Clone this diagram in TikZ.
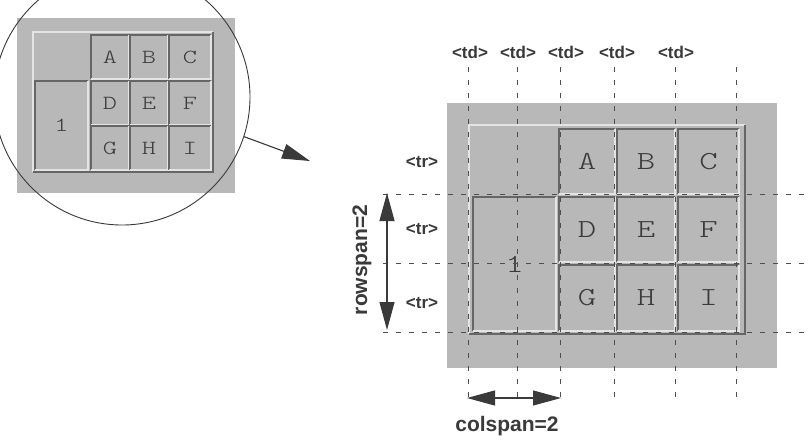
\documentclass[tikz,border=0pt]{standalone}
\usepackage{fontspec}
\setmainfont{Liberation Sans}
\newfontfamily\cellf{lmmonolt10-regular.otf}[FakeStretch=1.35]
\usetikzlibrary{arrows.meta}
\definecolor{bg}{HTML}{B8B8B8}
\definecolor{lite}{HTML}{E4E4E4}
\definecolor{dark}{HTML}{666666}
\definecolor{ink}{HTML}{3A3A3A}
\definecolor{gridc}{HTML}{4E4E4E}
\begin{document}
\begin{tikzpicture}[x=1pt,y=-1pt,
  panel/.style={fill=bg, draw=none, inner sep=0, outer sep=0},
  cellbox/.style={fill=bg, draw=none, inner sep=0, outer sep=0, text=ink, font=\cellf\fontsize{26}{26}\selectfont},
  smallcell/.style={cellbox, font=\cellf\fontsize{20}{20}\selectfont},
  lbl/.style={font=\bfseries\fontsize{17}{17}\selectfont, text=ink, inner sep=0},
  biglbl/.style={font=\bfseries\fontsize{21}{21}\selectfont, text=ink, inner sep=0},
  gridline/.style={draw=gridc, line width=0.8pt, dash pattern=on 5pt off 8pt},
  bigtip/.tip={Triangle[length=28pt,width=15pt]},
  bigarrow/.style={draw=ink, fill=ink, line width=1.1pt},
]
\useasboundingbox (0,0) rectangle (810,439);
\clip (0,0) rectangle (810,439);
\fill[white] (0,0) rectangle (810,439);

% ---------- left (small) panel ----------
\node[panel, minimum width=218pt, minimum height=175pt] (LP) at (126,105.5) {};
\node[panel, minimum width=180pt, minimum height=140pt] (LT) at (123,102) {};
\draw[lite, line width=1.6pt] (LT.south west) -- (LT.north west) -- (LT.north east);
\draw[dark, line width=1.6pt] (LT.north east) -- (LT.south east) -- (LT.south west);
\node[smallcell, minimum width=53pt, minimum height=89pt] (l1) at (61.5,125.5) {1};
\node[smallcell, minimum width=38pt, minimum height=44pt] (lA) at (110,57) {A};
\node[smallcell, minimum width=38pt, minimum height=44pt] (lB) at (149,57) {B};
\node[smallcell, minimum width=42pt, minimum height=44pt] (lC) at (190,57) {C};
\node[smallcell, minimum width=38pt, minimum height=44pt] (lD) at (110,103) {D};
\node[smallcell, minimum width=38pt, minimum height=44pt] (lE) at (149,103) {E};
\node[smallcell, minimum width=42pt, minimum height=44pt] (lF) at (190,103) {F};
\node[smallcell, minimum width=38pt, minimum height=44pt] (lG) at (110,148) {G};
\node[smallcell, minimum width=38pt, minimum height=44pt] (lH) at (149,148) {H};
\node[smallcell, minimum width=42pt, minimum height=44pt] (lI) at (190,148) {I};
\foreach \n in {l1,lA,lB,lC,lD,lE,lF,lG,lH,lI}{
  \draw[dark, line width=1.3pt] (\n.south west) -- (\n.north west) -- (\n.north east);
  \draw[lite, line width=1.3pt] (\n.north east) -- (\n.south east) -- (\n.south west);
}

% magnifier circle and arrow
\node[draw=ink, line width=0.9pt, circle, minimum size=256pt, inner sep=0] (mag) at (122,97) {};
\coordinate (magtip) at (310,161);
\draw[bigarrow, -{bigtip}] (mag.-18) -- (magtip);

% ---------- right (large) panel ----------
\node[panel, minimum width=330pt, minimum height=265pt] (RP) at (612,235.5) {};
\node[panel, minimum width=276pt, minimum height=209pt] (RT) at (607,229.5) {};
\draw[lite, line width=2.2pt] (RT.south west) -- (RT.north west) -- (RT.north east);
\draw[dark, line width=2.2pt] (RT.north east) -- (RT.south east) -- (RT.south west);
\node[cellbox, minimum width=83pt, minimum height=134pt] (r1) at (514.5,264) {1};
\node[cellbox, minimum width=56pt, minimum height=65pt] (rA) at (587,161.5) {A};
\node[cellbox, minimum width=58pt, minimum height=65pt] (rB) at (646,161.5) {B};
\node[cellbox, minimum width=61pt, minimum height=65pt] (rC) at (708.5,161.5) {C};
\node[cellbox, minimum width=56pt, minimum height=65pt] (rD) at (587,229.5) {D};
\node[cellbox, minimum width=58pt, minimum height=65pt] (rE) at (646,229.5) {E};
\node[cellbox, minimum width=61pt, minimum height=65pt] (rF) at (708.5,229.5) {F};
\node[cellbox, minimum width=56pt, minimum height=66pt] (rG) at (587,298) {G};
\node[cellbox, minimum width=58pt, minimum height=66pt] (rH) at (646,298) {H};
\node[cellbox, minimum width=61pt, minimum height=66pt] (rI) at (708.5,298) {I};
\foreach \n in {r1,rA,rB,rC,rD,rE,rF,rG,rH,rI}{
  \draw[dark, line width=1.6pt] (\n.south west) -- (\n.north west) -- (\n.north east);
  \draw[lite, line width=1.6pt] (\n.north east) -- (\n.south east) -- (\n.south west);
}

% dashed grid
\foreach \i/\x in {1/468,2/517,3/560,4/614,5/675,6/736}{
  \coordinate (vt\i) at (\x,67);
  \coordinate (vb\i) at (\x,404);
  \draw[gridline] (vt\i) -- (vb\i);
}
\foreach \i/\y in {1/194,2/263,3/332}{
  \coordinate (hl\i) at (383,\y);
  \coordinate (hr\i) at (812,\y);
  \draw[gridline] (hl\i) -- (hr\i);
}

% labels
\foreach \i/\x in {1/470,2/518,3/566,4/617,5/676}{
  \node[lbl] (td\i) at (\x,52) {<td>};
}
\foreach \i/\y in {1/162,2/229,3/303}{
  \node[lbl] (tr\i) at (422,\y) {<tr>};
}

% rowspan / colspan arrows
\coordinate (rsT) at (387,193);
\coordinate (rsB) at (387,330);
\draw[bigarrow, {bigtip}-{bigtip}] (rsT) -- (rsB);
\node[biglbl, rotate=90] (rowspan) at (362,260) {rowspan=2};
\coordinate (csL) at (467,398);
\coordinate (csR) at (561,398);
\draw[bigarrow, {bigtip}-{bigtip}] (csL) -- (csR);
\node[biglbl] (colspan) at (507,426) {colspan=2};
\end{tikzpicture}
\end{document}
